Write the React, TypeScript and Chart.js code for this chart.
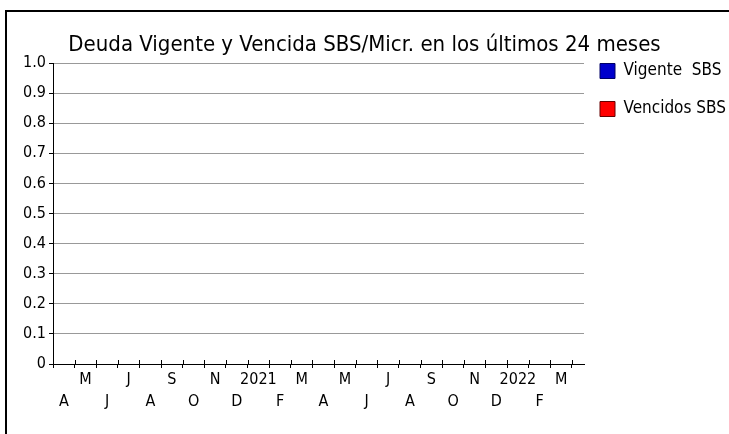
import React, { useEffect, useRef } from 'react';
import { Chart, registerables } from 'chart.js';

Chart.register(...registerables);

// ---- data ----
const chartTitle = 'Deuda Vigente y Vencida SBS/Micr. en los últimos 24 meses';
const months = ['A', 'M', 'J', 'J', 'A', 'S', 'O', 'N', 'D', '2021', 'F', 'M', 'A', 'M', 'J', 'J', 'A', 'S', 'O', 'N', 'D', '2022', 'F', 'M'];
const seriesNames = ['Vigente  SBS', 'Vencidos SBS'];
const vigenteSBS = [0, 0, 0, 0, 0, 0, 0, 0, 0, 0, 0, 0, 0, 0, 0, 0, 0, 0, 0, 0, 0, 0, 0, 0];
const vencidosSBS = [0, 0, 0, 0, 0, 0, 0, 0, 0, 0, 0, 0, 0, 0, 0, 0, 0, 0, 0, 0, 0, 0, 0, 0];
const yTickLabels = ['0', '0.1', '0.2', '0.3', '0.4', '0.5', '0.6', '0.7', '0.8', '0.9', '1.0'];

const seriesFill = ['#0000cc', '#ff0000'];
const seriesEdge = ['#000066', '#660000'];

const FONT = "'Liberation Sans Narrow', 'Arial Narrow', 'DejaVu Sans Condensed', sans-serif";

const crossTicks = {
  id: 'crossTicks',
  afterDraw(chart: any) {
    const xs = chart.scales.x;
    const ctx = chart.ctx;
    const y0 = chart.chartArea.bottom;
    ctx.save();
    ctx.strokeStyle = '#000';
    ctx.lineWidth = 1;
    ctx.beginPath();
    for (let i = 1; i <= months.length; i++) {
      const px = Math.round(xs.getPixelForValue(i)) + 0.5;
      ctx.moveTo(px, y0 - 4);
      ctx.lineTo(px, y0);
    }
    ctx.stroke();
    ctx.restore();
  },
};

export default function App() {
  const ref = useRef<HTMLCanvasElement>(null);

  useEffect(() => {
    if (!ref.current) return;
    const toPoints = (arr: number[]) => arr.map((v, i) => ({ x: i + 0.5, y: v }));
    const chart = new Chart(ref.current, {
      type: 'bar',
      data: {
        datasets: [
          { label: seriesNames[0], data: toPoints(vigenteSBS), backgroundColor: seriesFill[0], borderColor: seriesEdge[0], borderWidth: 0 },
          { label: seriesNames[1], data: toPoints(vencidosSBS), backgroundColor: seriesFill[1], borderColor: seriesEdge[1], borderWidth: 0 },
        ],
      } as any,
      options: {
        animation: false,
        responsive: false,
        devicePixelRatio: 1,
        layout: { padding: 0 },
        plugins: {
          tooltip: { enabled: false },
          title: {
            display: true,
            text: chartTitle,
            color: '#000',
            font: { family: FONT, size: 22, weight: 'normal', lineHeight: 1.2 },
            padding: { top: 31.8, bottom: -11.7 },
          },
          legend: {
            display: true,
            position: 'right',
            align: 'start',
            maxWidth: 145,
            title: {
              display: true,
              text: ' ',
              padding: { top: 36.5, bottom: 0 },
              font: { family: FONT, size: 10, lineHeight: '10px' },
            },
            labels: {
              color: '#000',
              boxWidth: 15,
              boxHeight: 15,
              padding: 16,
              font: { family: FONT, size: 17, lineHeight: '22px' },
              generateLabels: (c: any) =>
                c.data.datasets.map((ds: any, i: number) => ({
                  text: [ds.label],
                  fillStyle: seriesFill[i],
                  strokeStyle: seriesEdge[i],
                  lineWidth: 1,
                  hidden: false,
                  datasetIndex: i,
                  fontColor: '#000',
                })),
            },
          },
        },
        scales: {
          xTop: {
            type: 'linear',
            position: 'top',
            display: true,
            grid: { display: false },
            border: { display: false },
            ticks: { display: false },
            afterFit: (s: any) => { s.height = 16.5; },
          },
          x: {
            type: 'linear',
            position: 'bottom',
            min: 0,
            max: 24.555,
            offset: false,
            afterBuildTicks: (s: any) => { s.ticks = months.map((_, i) => ({ value: i + 0.5 })); },
            afterFit: (s: any) => { s.height = 70; },
            grid: { display: true, drawOnChartArea: false, drawTicks: true, tickLength: 4, color: '#000', offset: true, lineWidth: 1 },
            border: { display: true, color: '#000', width: 1 },
            ticks: {
              autoSkip: false,
              maxRotation: 0,
              minRotation: 0,
              padding: 1,
              color: '#000',
              font: { family: FONT, size: 16, lineHeight: '22px' },
              callback: (_v: any, i: number) => (i % 2 === 0 ? ['', months[i]] : [months[i], '']),
            },
          },
          y: {
            min: 0,
            max: 1,
            afterFit: (s: any) => { s.width = 53; },
            grid: {
              color: (ctx: any) => (ctx.index === 0 ? '#000' : '#999999'),
              tickColor: '#000',
              tickLength: 4,
              lineWidth: 1,
            },
            border: { display: true, color: '#000', width: 1 },
            ticks: {
              stepSize: 0.1,
              padding: 3,
              color: '#000',
              font: { family: FONT, size: 16 },
              callback: (_v: any, i: number) => yTickLabels[i],
            },
          },
        },
      } as any,
      plugins: [crossTicks],
    });
    return () => chart.destroy();
  }, []);

  return (
    <div style={{ position: 'fixed', left: 0, top: 0, width: 729, height: 434, background: '#fff', overflow: 'hidden' }}>
      <canvas ref={ref} width={729} height={434} style={{ display: 'block', width: 729, height: 434 }} />
      <div
        style={{
          position: 'absolute',
          left: 5,
          top: 10,
          width: 740,
          height: 440,
          borderTop: '2px solid #000',
          borderLeft: '2px solid #000',
          pointerEvents: 'none',
        }}
      />
    </div>
  );
}
